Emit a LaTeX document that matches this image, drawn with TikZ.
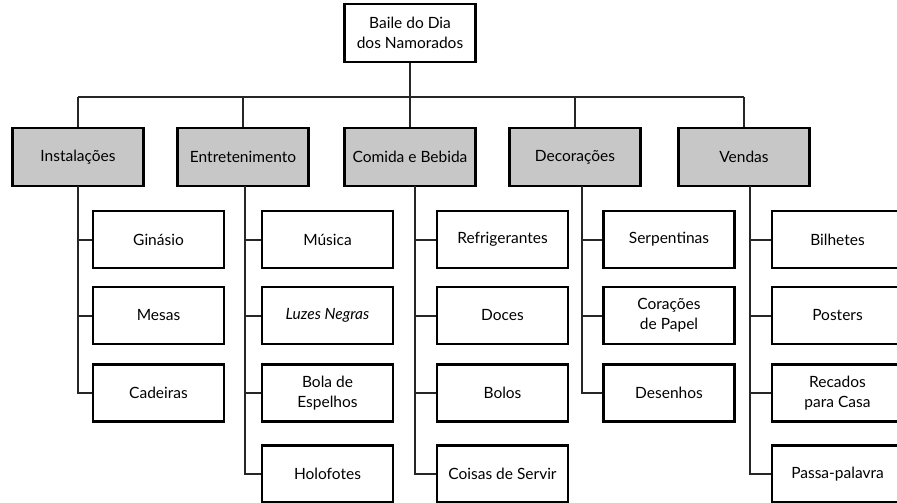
\documentclass[tikz,border=0pt]{standalone}
\usepackage{fontspec}
\setmainfont{Lato}
\begin{document}
\begin{tikzpicture}[x=1pt,y=-1pt,
  font=\fontsize{15.5}{20}\selectfont,
  base/.style={draw=black,line width=2.6pt,minimum width=131pt,align=center,inner sep=2pt},
  rootbox/.style={base,fill=white,minimum height=58pt},
  catbox/.style={base,fill=black!22,minimum height=58pt},
  leafbox/.style={base,fill=white,minimum height=57pt},
  link/.style={draw=black!85,line width=2pt}]
\useasboundingbox (0,0) rectangle (897,503);
% root
\node[rootbox] (root) at (410,33) {Baile do Dia\\dos Namorados};
% categories
\node[catbox] (c1) at (78,157) {Instalações};
\node[catbox] (c2) at (243,157) {Entretenimento};
\node[catbox] (c3) at (410,157) {Comida e Bebida};
\node[catbox] (c4) at (575,157) {Decorações};
\node[catbox] (c5) at (744,157) {Vendas};
% bus
\coordinate (bus) at (0,97);
\draw[link] (root.south) -- (root.south |- bus);
\draw[link] (c1.north |- bus) -- (c5.north |- bus);
\foreach \c in {c1,c2,c3,c4,c5} {\draw[link] (\c.north) -- (\c.north |- bus);}
% leaves
\node[leafbox] (a1) at (158.5,239.5) {Ginásio};
\node[leafbox] (a2) at (158.5,315.5) {Mesas};
\node[leafbox] (a3) at (158.5,393) {Cadeiras};
\node[leafbox] (b1) at (327.5,239.5) {Música};
\node[leafbox] (b2) at (327.5,315.5) {\itshape Luzes Negras};
\node[leafbox] (b3) at (327.5,393) {Bola de\\Espelhos};
\node[leafbox] (b4) at (327.5,474) {Holofotes};
\node[leafbox] (e1) at (502.5,239.5) {Refrigerantes};
\node[leafbox] (e2) at (502.5,315.5) {Doces};
\node[leafbox] (e3) at (502.5,393) {Bolos};
\node[leafbox] (e4) at (502.5,474) {Coisas de Servir};
\node[leafbox] (f1) at (669,239.5) {Serpentinas};
\node[leafbox] (f2) at (669,315.5) {Corações\\de Papel};
\node[leafbox] (f3) at (669,393) {Desenhos};
\node[leafbox] (g1) at (837.5,239.5) {Bilhetes};
\node[leafbox] (g2) at (837.5,315.5) {Posters};
\node[leafbox] (g3) at (837.5,393) {Recados\\para Casa};
\node[leafbox] (g4) at (837.5,474) {Passa-palavra};
% drops
\coordinate (d1) at (78,186);
\coordinate (d2) at (245,186);
\coordinate (d3) at (415,186);
\coordinate (d4) at (582,186);
\coordinate (d5) at (750,186);
\draw[link] (d1) |- (a3.west);
\draw[link] (d1 |- a1.west) -- (a1.west);
\draw[link] (d1 |- a2.west) -- (a2.west);
\draw[link] (d2) |- (b4.west);
\foreach \n in {b1,b2,b3} {\draw[link] (d2 |- \n.west) -- (\n.west);}
\draw[link] (d3) |- (e4.west);
\foreach \n in {e1,e2,e3} {\draw[link] (d3 |- \n.west) -- (\n.west);}
\draw[link] (d4) |- (f3.west);
\foreach \n in {f1,f2} {\draw[link] (d4 |- \n.west) -- (\n.west);}
\draw[link] (d5) |- (g4.west);
\foreach \n in {g1,g2,g3} {\draw[link] (d5 |- \n.west) -- (\n.west);}
\end{tikzpicture}
\end{document}
